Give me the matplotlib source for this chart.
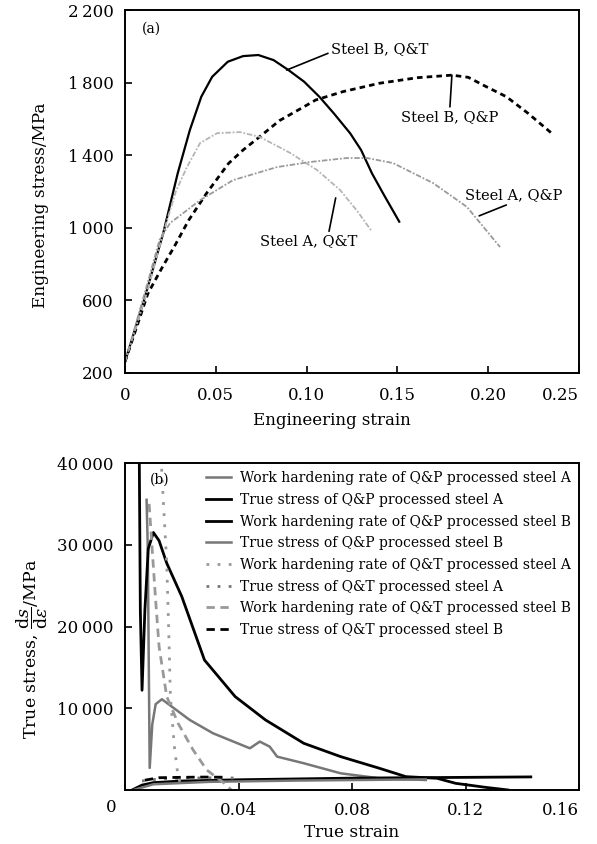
import numpy as np
import matplotlib.pyplot as plt

plt.rcParams['font.family'] = ['DejaVu Serif']
plt.rcParams['mathtext.fontset'] = 'dejavuserif'

# (a) engineering stress-strain
bqt_x = [0, 0.0105, 0.021, 0.029, 0.0357, 0.042, 0.048, 0.0566, 0.065, 0.0734, 0.0818, 0.090,
         0.0986, 0.107, 0.115, 0.124, 0.130, 0.136, 0.1426, 0.151]
bqt_y = [260, 601, 968, 1299, 1538, 1722, 1832, 1915, 1946, 1952, 1924, 1869,
         1805, 1722, 1630, 1520, 1428, 1299, 1180, 1033]

bqp_x = [0, 0.0126, 0.021, 0.027, 0.035, 0.045, 0.057, 0.065, 0.074, 0.085, 0.0986, 0.105,
         0.12, 0.14, 0.161, 0.18, 0.189, 0.199, 0.21, 0.222, 0.235]
bqp_y = [260, 637, 790, 893, 1040, 1191, 1354, 1428, 1500, 1590, 1667, 1704,
         1750, 1796, 1827, 1841, 1829, 1777, 1722, 1630, 1520]

aqt_x = [0, 0.012, 0.021, 0.028, 0.0341, 0.0413, 0.0507, 0.0633, 0.0743, 0.0909, 0.1057, 0.1184, 0.128, 0.136]
aqt_y = [260, 640, 968, 1200, 1334, 1466, 1521, 1527, 1500, 1412, 1318, 1208, 1090, 978]

aqp_x = [0, 0.012, 0.019, 0.0248, 0.0413, 0.0595, 0.0837, 0.1019, 0.1222, 0.1333, 0.1476, 0.1696, 0.1883, 0.2065]
aqp_y = [260, 680, 932, 1025, 1151, 1262, 1334, 1362, 1384, 1384, 1356, 1246, 1114, 893]

# (b) work hardening rate and true stress
whr_qpa_x = [0.0076, 0.0080, 0.0087, 0.0096, 0.0108, 0.0130, 0.0228, 0.031, 0.044, 0.0475, 0.051,
             0.0536, 0.063, 0.076, 0.0897, 0.106]
whr_qpa_y = [35500, 30000, 2700, 8000, 10500, 11100, 8570, 6940, 5100, 5920, 5300,
             4080, 3270, 2040, 1430, 1220]

whr_qpb_x = [0.0050, 0.0054, 0.0060, 0.0070, 0.0082, 0.0100, 0.0120, 0.0147, 0.020, 0.028, 0.0388,
             0.0495, 0.063, 0.076, 0.0897, 0.099, 0.11, 0.1165, 0.127, 0.135]
whr_qpb_y = [42000, 22000, 12200, 22000, 29500, 31500, 30500, 27750, 23670, 15900, 11430,
             8570, 5710, 4080, 2650, 1630, 1430, 816, 326, 0]

ts_qpa_x = [0.0025, 0.006, 0.01, 0.02, 0.04, 0.08, 0.143]
ts_qpa_y = [0, 600, 900, 1100, 1250, 1450, 1600]

ts_qpb_x = [0.003, 0.01, 0.03, 0.06, 0.106]
ts_qpb_y = [0, 700, 1000, 1150, 1300]

whr_qta_x = [0.0125, 0.0134, 0.0147, 0.0154, 0.016, 0.0174, 0.0187, 0.020]
whr_qta_y = [42000, 36000, 27750, 19600, 11400, 5300, 1630, 400]

ts_qta_x = [0.006, 0.012, 0.02, 0.03, 0.039]
ts_qta_y = [1100, 1350, 1450, 1480, 1470]

whr_qtb_x = [0.0085, 0.0107, 0.012, 0.0147, 0.0187, 0.024, 0.0288, 0.035, 0.0375]
whr_qtb_y = [35000, 23670, 17550, 11430, 8160, 4900, 2450, 816, 0]

ts_qtb_x = [0.007, 0.012, 0.02, 0.028, 0.036]
ts_qtb_y = [1200, 1500, 1550, 1580, 1560]

fig = plt.figure(figsize=(5.97, 8.44), dpi=100)

ax1 = fig.add_axes([0.2094, 0.5584, 0.7605, 0.4297])
ax1.plot(bqt_x, bqt_y, color='black', lw=1.6)
ax1.plot(bqp_x, bqp_y, color='black', lw=2.0, ls=(0, (2, 1.5)))
ax1.plot(aqt_x, aqt_y, color='#b5b5b5', lw=1.3, ls=(0, (3, 1, 1, 1)))
ax1.plot(aqp_x, aqp_y, color='#9a9a9a', lw=1.3, ls=(0, (3, 1, 1, 1)))

ax1.set_xlim(0, 0.25)
ax1.set_ylim(200, 2200)
ax1.set_xticks([0, 0.05, 0.10, 0.15, 0.20, 0.25])
ax1.set_xticklabels(['0', '0.05', '0.10', '0.15', '0.20', '0.25'])
ax1.get_xticklabels()[-1].set_ha('right')
ax1.set_yticks([200, 600, 1000, 1400, 1800, 2200])
ax1.set_yticklabels(['200', '600', '1\u2009000', '1\u2009400', '1\u2009800', '2\u2009200'])
ax1.tick_params(direction='in', labelsize=12, length=5, width=1.2)
ax1.tick_params(axis='x', pad=10)
ax1.tick_params(axis='y', pad=8)
ax1.set_xlabel('Engineering strain', fontsize=12)
ax1.xaxis.set_label_coords(0.455, -0.108)
ax1.set_ylabel('Engineering stress/MPa', fontsize=12.2)
ax1.yaxis.set_label_coords(-0.168, 0.463)
for s in ax1.spines.values():
    s.set_linewidth(1.4)

ax1.text(0.0095, 2099, '(a)', fontsize=10, va='center')
ax1.annotate('Steel B, Q&T', xy=(0.089, 1869), xytext=(0.1133, 1983), fontsize=10.5, va='center',
             arrowprops=dict(arrowstyle='-', lw=1.2, color='black', shrinkA=0, shrinkB=0,
                             relpos=(0.0, 0.3)))
ax1.annotate('Steel B, Q&P', xy=(0.180, 1841), xytext=(0.152, 1612), fontsize=10.5, va='center',
             arrowprops=dict(arrowstyle='-', lw=1.2, color='black', shrinkA=0, shrinkB=0,
                             relpos=(0.5, 1.0)))
ax1.annotate('Steel A, Q&T', xy=(0.116, 1164), xytext=(0.0745, 926), fontsize=10.5, va='center',
             arrowprops=dict(arrowstyle='-', lw=1.2, color='black', shrinkA=0, shrinkB=0,
                             relpos=(0.7, 1.0)))
ax1.annotate('Steel A, Q&P', xy=(0.195, 1065), xytext=(0.187, 1179), fontsize=10.5, va='center',
             arrowprops=dict(arrowstyle='-', lw=1.2, color='black', shrinkA=0, shrinkB=0,
                             relpos=(0.5, 0.0)))

ax2 = fig.add_axes([0.2094, 0.064, 0.7605, 0.3874])
gray = '#777777'
ax2.plot(whr_qpa_x, whr_qpa_y, color=gray, lw=1.8, label='Work hardening rate of Q&P processed steel A')
ax2.plot(ts_qpa_x, ts_qpa_y, color='black', lw=2.0, label='True stress of Q&P processed steel A')
ax2.plot(whr_qpb_x, whr_qpb_y, color='black', lw=2.0, label='Work hardening rate of Q&P processed steel B')
ax2.plot(ts_qpb_x, ts_qpb_y, color=gray, lw=1.8, label='True stress of Q&P processed steel B')
ax2.plot(whr_qta_x, whr_qta_y, color='#999999', lw=2.0, ls=(0, (1, 3)),
         label='Work hardening rate of Q&T processed steel A')
ax2.plot(ts_qta_x, ts_qta_y, color=gray, lw=2.0, ls=(0, (1, 3)), label='True stress of Q&T processed steel A')
ax2.plot(whr_qtb_x, whr_qtb_y, color='#999999', lw=2.0, ls=(0, (3, 2)),
         label='Work hardening rate of Q&T processed steel B')
ax2.plot(ts_qtb_x, ts_qtb_y, color='black', lw=2.0, ls=(0, (3, 2)), label='True stress of Q&T processed steel B')

ax2.set_xlim(0, 0.16)
ax2.set_ylim(0, 40000)
ax2.set_xticks([0, 0.04, 0.08, 0.12, 0.16])
ax2.set_xticklabels(['', '0.04', '0.08', '0.12', '0.16'])
ax2.get_xticklabels()[-1].set_ha('right')
ax2.set_yticks([10000, 20000, 30000, 40000])
ax2.set_yticklabels(['10\u2009000', '20\u2009000', '30\u2009000', '40\u2009000'])
ax2.tick_params(direction='in', labelsize=12, length=5, width=1.2)
ax2.tick_params(axis='x', pad=9)
ax2.tick_params(axis='y', pad=8)
ax2.annotate('0', xy=(0, 0), xycoords='axes fraction', xytext=(-14, -18),
             textcoords='offset pixels', ha='center', va='center', fontsize=12)
ax2.set_xlabel('True strain', fontsize=12.2)
ax2.xaxis.set_label_coords(0.5, -0.105)
ax2.set_ylabel(r'True stress, $\dfrac{\mathrm{d}s}{\mathrm{d}\varepsilon}$/MPa', fontsize=12.5)
ax2.yaxis.set_label_coords(-0.165, 0.431)
for s in ax2.spines.values():
    s.set_linewidth(1.4)
ax2.text(0.0087, 38000, '(b)', fontsize=10, va='center')
ax2.legend(loc='upper right', frameon=False, fontsize=10, handlelength=1.8,
           labelspacing=0.55, handletextpad=0.6, borderaxespad=0.2)

fig.savefig('out.png', dpi=100)
